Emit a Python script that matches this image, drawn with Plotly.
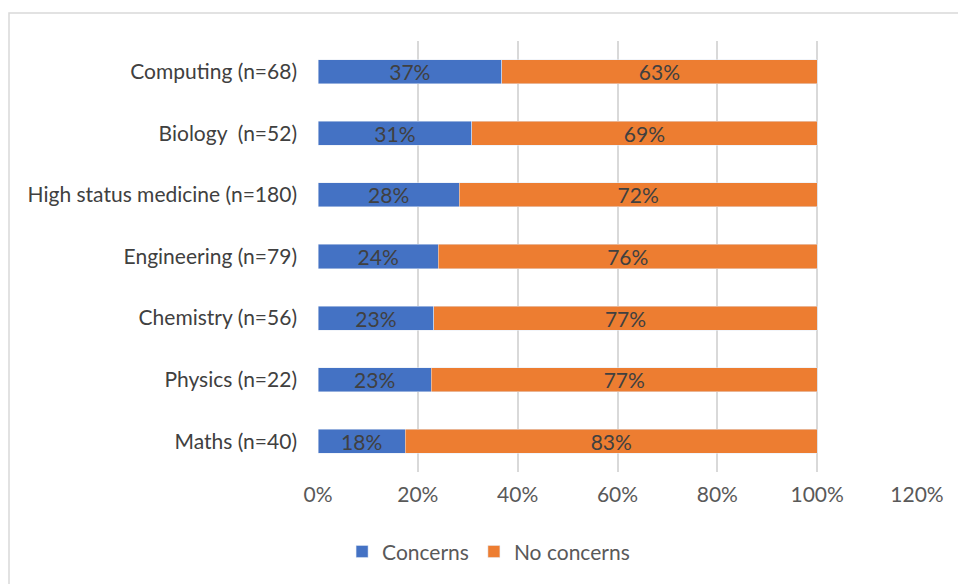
import plotly.graph_objects as go

categories = ["Maths (n=40)", "Physics (n=22)", "Chemistry (n=56)", "Engineering (n=79)",
              "High status medicine (n=180)", "Biology  (n=52)", "Computing (n=68)"]
concerns = [17.5, 22.7, 23.2, 24.1, 28.3, 30.8, 36.8]
no_concerns = [82.5, 77.3, 76.8, 75.9, 71.7, 69.2, 63.2]
concerns_labels = ["18%", "23%", "23%", "24%", "28%", "31%", "37%"]
no_concerns_labels = ["83%", "77%", "77%", "76%", "72%", "69%", "63%"]
x_ticks = [0, 20, 40, 60, 80, 100, 120]
x_tick_labels = ["0%", "20%", "40%", "60%", "80%", "100%", "120%"]

FONT = "Lato, 'Open Sans', sans-serif"
FS = 21
fig = go.Figure()
fig.add_trace(go.Bar(
    y=categories, x=concerns, name="Concerns", orientation="h",
    marker=dict(color="#4472C4"),
    text=concerns_labels, textposition="inside",
    insidetextanchor="middle", textangle=0,
    textfont=dict(color="#404040", size=FS, family=FONT),
))
fig.add_trace(go.Bar(
    y=categories, x=no_concerns, name="No concerns", orientation="h",
    marker=dict(color="#ED7D31"),
    text=no_concerns_labels, textposition="inside",
    insidetextanchor="middle", textangle=0,
    textfont=dict(color="#404040", size=FS, family=FONT),
))
fig.update_layout(
    barmode="stack", bargap=0.61,
    width=958, height=584,
    margin=dict(l=318, r=41, t=41, b=112),
    paper_bgcolor="white", plot_bgcolor="white",
    font=dict(family=FONT, size=FS, color="#595959"),
    uniformtext=dict(minsize=FS, mode="show"),
    xaxis=dict(range=[0, 120], tickvals=x_ticks, ticktext=x_tick_labels,
               showgrid=True, gridcolor="#d9d9d9", gridwidth=1.5,
               zeroline=False, showline=False, ticks="",
               tickfont=dict(size=FS, color="#595959"), ticklabelstandoff=8),
    yaxis=dict(showgrid=False, showline=False, ticks="", ticklabelstandoff=20,
               tickfont=dict(size=FS, color="#404040")),
    legend=dict(orientation="h", x=0.51, xref="container", xanchor="center",
                y=0.02, yref="container", yanchor="bottom", itemwidth=30,
                font=dict(size=FS, color="#595959"), traceorder="normal"),
    shapes=[dict(type="rect", xref="paper", yref="paper",
                 x0=(9 - 318) / 599, x1=(975 - 318) / 599,
                 y0=(472 - 600) / 431, y1=(472 - 13) / 431,
                 line=dict(color="#d9d9d9", width=1.5), layer="below")],
)
fig.write_html("out.html")
